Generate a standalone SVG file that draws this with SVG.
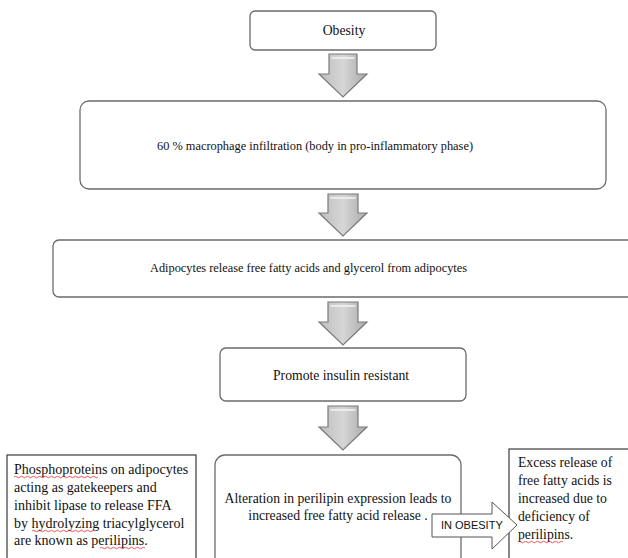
<svg xmlns="http://www.w3.org/2000/svg" width="628" height="558" viewBox="0 0 628 558">
<style>
.box{fill:#fff;stroke:#6b6b6b;stroke-width:1.3}
.sq{fill:#fff;stroke:#3a3a3a;stroke-width:1.2}
.t{font-family:"Liberation Serif","Times New Roman",serif;font-size:13.7px;fill:#111}
.s{font-size:13.2px}
.l{font-size:14px}
.arr{fill:url(#g);stroke:#7a7a7a;stroke-width:1.2;stroke-linejoin:miter}
.hl{fill:none;stroke:#f4f4f4;stroke-width:1.6;stroke-linecap:round}
.sp{fill:none;stroke:#e03030;stroke-width:0.8}
.a{font-family:"Liberation Sans",Arial,sans-serif;font-size:11px;fill:#111}
</style>
<defs>
<linearGradient id="g" x1="0" y1="0" x2="1" y2="0">
<stop offset="0" stop-color="#bdbdbd"/>
<stop offset="0.5" stop-color="#d6d6d6"/>
<stop offset="1" stop-color="#a9a9a9"/>
</linearGradient>
</defs>
<g id="obesity">
<rect class="box" x="250" y="11" width="186" height="39" rx="5"/>
<text class="t" x="344" y="35" text-anchor="middle">Obesity</text>
</g>
<g id="macrophage">
<rect class="box" x="80" y="101" width="526" height="88" rx="9"/>
<text class="t s" x="157" y="150" textLength="316" lengthAdjust="spacingAndGlyphs">60 % macrophage infiltration  (body in pro-inflammatory phase)</text>
</g>
<g id="adipocytes">
<rect class="box" x="53" y="240" width="590" height="57" rx="6"/>
<text class="t s" x="150" y="272" textLength="317" lengthAdjust="spacingAndGlyphs">Adipocytes release free fatty acids and glycerol  from adipocytes</text>
</g>
<g id="insulin">
<rect class="box" x="220" y="348" width="246" height="53" rx="6"/>
<text class="t" x="273" y="380">Promote insulin  resistant</text>
</g>
<g id="perilipin">
<rect class="box" x="215" y="455" width="246" height="115" rx="10"/>
<text class="t" x="338" y="503" text-anchor="middle">Alteration in perilipin  expression leads to</text>
<text class="t" x="338" y="520" text-anchor="middle">increased free fatty acid release .</text>
</g>
<g id="phosphoproteins">
<rect class="sq" x="7" y="455" width="189" height="115"/>
<text class="t l" x="14" y="474">Phosphoproteins on adipocytes</text>
<text class="t l" x="14" y="492">acting as gatekeepers and</text>
<text class="t l" x="14" y="510">inhibit lipase to release FFA</text>
<text class="t l" x="14" y="528">by hydrolyzing triacylglycerol</text>
<text class="t l" x="14" y="545">are known as perilipins.</text>
<path class="sp" d="M14,477 q1.5,-1.5 3,0 t3,0 t3,0 t3,0 t3,0 t3,0 t3,0 t3,0 t3,0 t3,0 t3,0 t3,0 t3,0 t3,0 t3,0 t3,0 t3,0 t3,0 t3,0 t3,0 t3,0 t3,0 t3,0 t3,0 t3,0 t3,0 t3,0 t3,0"/>
<path class="sp" d="M32,531 q1.5,-1.5 3,0 t3,0 t3,0 t3,0 t3,0 t3,0 t3,0 t3,0 t3,0 t3,0 t3,0 t3,0 t3,0 t3,0 t3,0 t3,0 t3,0 t3,0 t3,0 t3,0 t3,0"/>
<path class="sp" d="M100,548 q1.5,-1.5 3,0 t3,0 t3,0 t3,0 t3,0 t3,0 t3,0 t3,0 t3,0 t3,0 t3,0 t3,0 t3,0 t3,0 t3,0"/>
</g>
<g id="excess">
<rect class="sq" x="509" y="449" width="130" height="121"/>
<text class="t" x="518" y="467">Excess release of</text>
<text class="t" x="518" y="485">free fatty acids is</text>
<text class="t" x="518" y="503">increased due to</text>
<text class="t" x="518" y="521">deficiency of</text>
<text class="t" x="518" y="539">perilipins.</text>
<path class="sp" d="M518,542 q1.5,-1.5 3,0 t3,0 t3,0 t3,0 t3,0 t3,0 t3,0 t3,0 t3,0 t3,0 t3,0 t3,0 t3,0 t3,0 t3,0"/>
</g>
<g id="connectors">
<g id="arrow1">
<path class="arr" d="M329,54 H357 V74 H367 L343,97 L319,74 H329 Z"/>
<path class="hl" d="M332,58 H354"/>
</g>
<g id="arrow2">
<path class="arr" d="M328,194 H358 V213 H367 L343,236 L319,213 H328 Z"/>
<path class="hl" d="M331,198 H355"/>
</g>
<g id="arrow3">
<path class="arr" d="M328,302 H358 V322 H367 L343,345 L319,322 H328 Z"/>
<path class="hl" d="M331,306 H355"/>
</g>
<g id="arrow4">
<path class="arr" d="M328,406 H358 V427 H367 L343,450 L319,427 H328 Z"/>
<path class="hl" d="M331,410 H355"/>
</g>
<g id="in-obesity">
<path d="M432,514 H492 V502 L517,525 L492,549 V537 H432 Z" fill="#fff" stroke="#555" stroke-width="1"/>
<text class="a" x="441" y="529">IN OBESITY</text>
</g>
</g>
</svg>
